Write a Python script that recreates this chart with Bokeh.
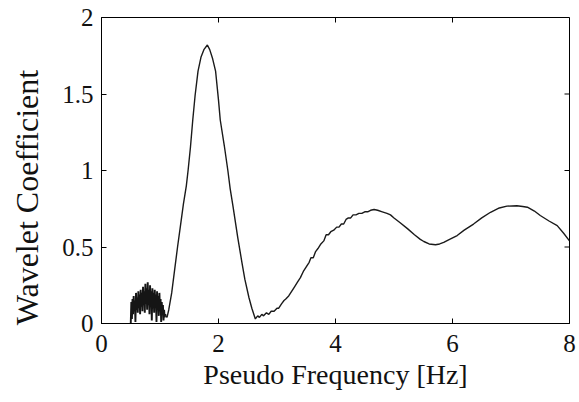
import math
from bokeh.plotting import figure
from bokeh.models import Range1d, FixedTicker, Label
from bokeh.embed import file_html
from bokeh.resources import INLINE

# --- data ---
noise_freq = [0.50, 0.51, 0.52, 0.53, 0.54, 0.55, 0.56, 0.57, 0.58, 0.59,
              0.60, 0.61, 0.62, 0.63, 0.64, 0.65, 0.66, 0.67, 0.68, 0.69,
              0.70, 0.71, 0.72, 0.73, 0.74, 0.75, 0.76, 0.77, 0.78, 0.79,
              0.80, 0.81, 0.82, 0.83, 0.84, 0.85, 0.86, 0.87, 0.88, 0.89,
              0.90, 0.91, 0.92, 0.93, 0.94, 0.95, 0.96, 0.97, 0.98, 0.99,
              1.00, 1.01, 1.02, 1.03, 1.04, 1.05, 1.06, 1.07, 1.08, 1.09, 1.10]
noise_coef = [0.00, 0.14, 0.03, 0.16, 0.06, 0.18, 0.08, 0.15, 0.01, 0.20,
              0.09, 0.17, 0.07, 0.21, 0.10, 0.19, 0.06, 0.22, 0.11, 0.20,
              0.08, 0.24, 0.12, 0.21, 0.07, 0.26, 0.13, 0.23, 0.09, 0.27,
              0.12, 0.22, 0.06, 0.25, 0.11, 0.21, 0.02, 0.23, 0.10, 0.20,
              0.07, 0.22, 0.12, 0.19, 0.01, 0.21, 0.09, 0.18, 0.05, 0.20,
              0.08, 0.16, 0.01, 0.14, 0.06, 0.12, 0.02, 0.09, 0.04, 0.06, 0.05]

curve_freq = [1.10, 1.12, 1.15, 1.20, 1.25, 1.30, 1.35, 1.40, 1.45, 1.48, 1.52,
              1.56, 1.60, 1.65, 1.70, 1.75, 1.81, 1.85, 1.90, 1.95, 2.00,
              2.03, 2.10, 2.16, 2.20, 2.25, 2.33, 2.40, 2.45, 2.52, 2.57,
              2.63, 2.67, 2.70, 2.74, 2.77, 2.82, 2.86, 2.90, 2.95, 3.00,
              3.03, 3.08, 3.12, 3.15, 3.20, 3.25, 3.30, 3.35, 3.40, 3.45,
              3.50, 3.55, 3.58, 3.62, 3.66, 3.70, 3.75, 3.80, 3.84, 3.88,
              3.92, 3.97, 4.02, 4.06, 4.10, 4.14, 4.18, 4.22, 4.26, 4.30,
              4.35, 4.40, 4.45, 4.50, 4.55, 4.60, 4.66, 4.72, 4.80, 4.88,
              4.94, 5.00, 5.10, 5.23, 5.35, 5.45, 5.51, 5.60, 5.71, 5.78,
              5.85, 5.95, 6.08, 6.20, 6.36, 6.50, 6.65, 6.80, 6.93, 7.10,
              7.20, 7.28, 7.40, 7.50, 7.65, 7.79, 7.90, 8.00]
curve_coef = [0.05, 0.04, 0.09, 0.20, 0.35, 0.50, 0.64, 0.78, 0.90, 1.00, 1.15,
              1.33, 1.49, 1.65, 1.74, 1.79, 1.82, 1.79, 1.73, 1.65, 1.46,
              1.33, 1.16, 1.00, 0.88, 0.76, 0.56, 0.40, 0.29, 0.17, 0.10,
              0.03, 0.05, 0.04, 0.06, 0.05, 0.07, 0.06, 0.08, 0.08, 0.10,
              0.10, 0.13, 0.15, 0.16, 0.18, 0.21, 0.24, 0.27, 0.30, 0.34,
              0.37, 0.40, 0.43, 0.43, 0.47, 0.49, 0.52, 0.54, 0.58, 0.58,
              0.60, 0.61, 0.63, 0.63, 0.65, 0.65, 0.68, 0.69, 0.69, 0.71,
              0.71, 0.72, 0.72, 0.73, 0.73, 0.74, 0.745, 0.74, 0.73, 0.72,
              0.71, 0.69, 0.66, 0.62, 0.58, 0.55, 0.536, 0.52, 0.515, 0.52,
              0.53, 0.55, 0.575, 0.61, 0.65, 0.69, 0.727, 0.755, 0.767, 0.77,
              0.765, 0.76, 0.735, 0.706, 0.67, 0.64, 0.59, 0.54]

x_ticks = [0, 2, 4, 6, 8]
y_ticks = [0, 0.5, 1, 1.5, 2]
x_label = "Pseudo Frequency [Hz]"
y_label = "Wavelet Coefficient"

FONT = "Liberation Serif"
X0, X1 = x_ticks[0], x_ticks[-1]
Y0, Y1 = y_ticks[0], y_ticks[-1]

p = figure(width=579, height=402, output_backend="svg", toolbar_location=None,
           x_range=Range1d(X0, X1), y_range=Range1d(Y0, Y1),
           min_border_left=101, min_border_right=10,
           min_border_top=17, min_border_bottom=79,
           background_fill_color="white", border_fill_color="white")

p.line(noise_freq, noise_coef, line_color="#151515", line_width=1.9)
p.line(curve_freq, curve_coef, line_color="#1a1a1a", line_width=1.4)

# inside ticks on top and right edges (MATLAB-style box)
p.ray(x=x_ticks, y=[Y1] * len(x_ticks), length=5, length_units="screen",
      angle=-math.pi / 2, line_color="black", line_width=1)
p.ray(x=[X1] * len(y_ticks), y=y_ticks, length=5, length_units="screen",
      angle=math.pi, line_color="black", line_width=1)

p.grid.visible = False
p.outline_line_color = "black"
p.outline_line_width = 1

xa = p.xaxis[0]
ya = p.yaxis[0]
xa.ticker = FixedTicker(ticks=x_ticks)
ya.ticker = FixedTicker(ticks=y_ticks)
for ax in (xa, ya):
    ax.major_tick_in = 5
    ax.major_tick_out = 0
    ax.minor_tick_in = 0
    ax.minor_tick_out = 0
    ax.axis_line_color = "black"
    ax.major_tick_line_color = "black"
    ax.major_label_text_font = FONT
    ax.major_label_text_font_size = "25px"
    ax.major_label_text_color = "#111111"
    ax.axis_label_text_font = FONT
    ax.axis_label_text_font_style = "normal"
    ax.axis_label_text_color = "#111111"

xa.axis_label = x_label
xa.axis_label_text_font_size = "28px"
xa.major_label_standoff = 11
xa.axis_label_standoff = 4
ya.major_label_standoff = 8
ya.major_label_orientation = "horizontal"

# y-axis title outside the frame, a little below the frame centre as in the reference
ylab = Label(x=3, y=126, x_units="screen", y_units="screen", text=y_label,
             angle=math.pi / 2, text_align="center", text_baseline="middle",
             text_font=FONT, text_font_size="32px", text_color="#111111")
ylab.level = "overlay"
p.add_layout(ylab, "left")

open("out.html", "w").write(file_html(p, INLINE))
